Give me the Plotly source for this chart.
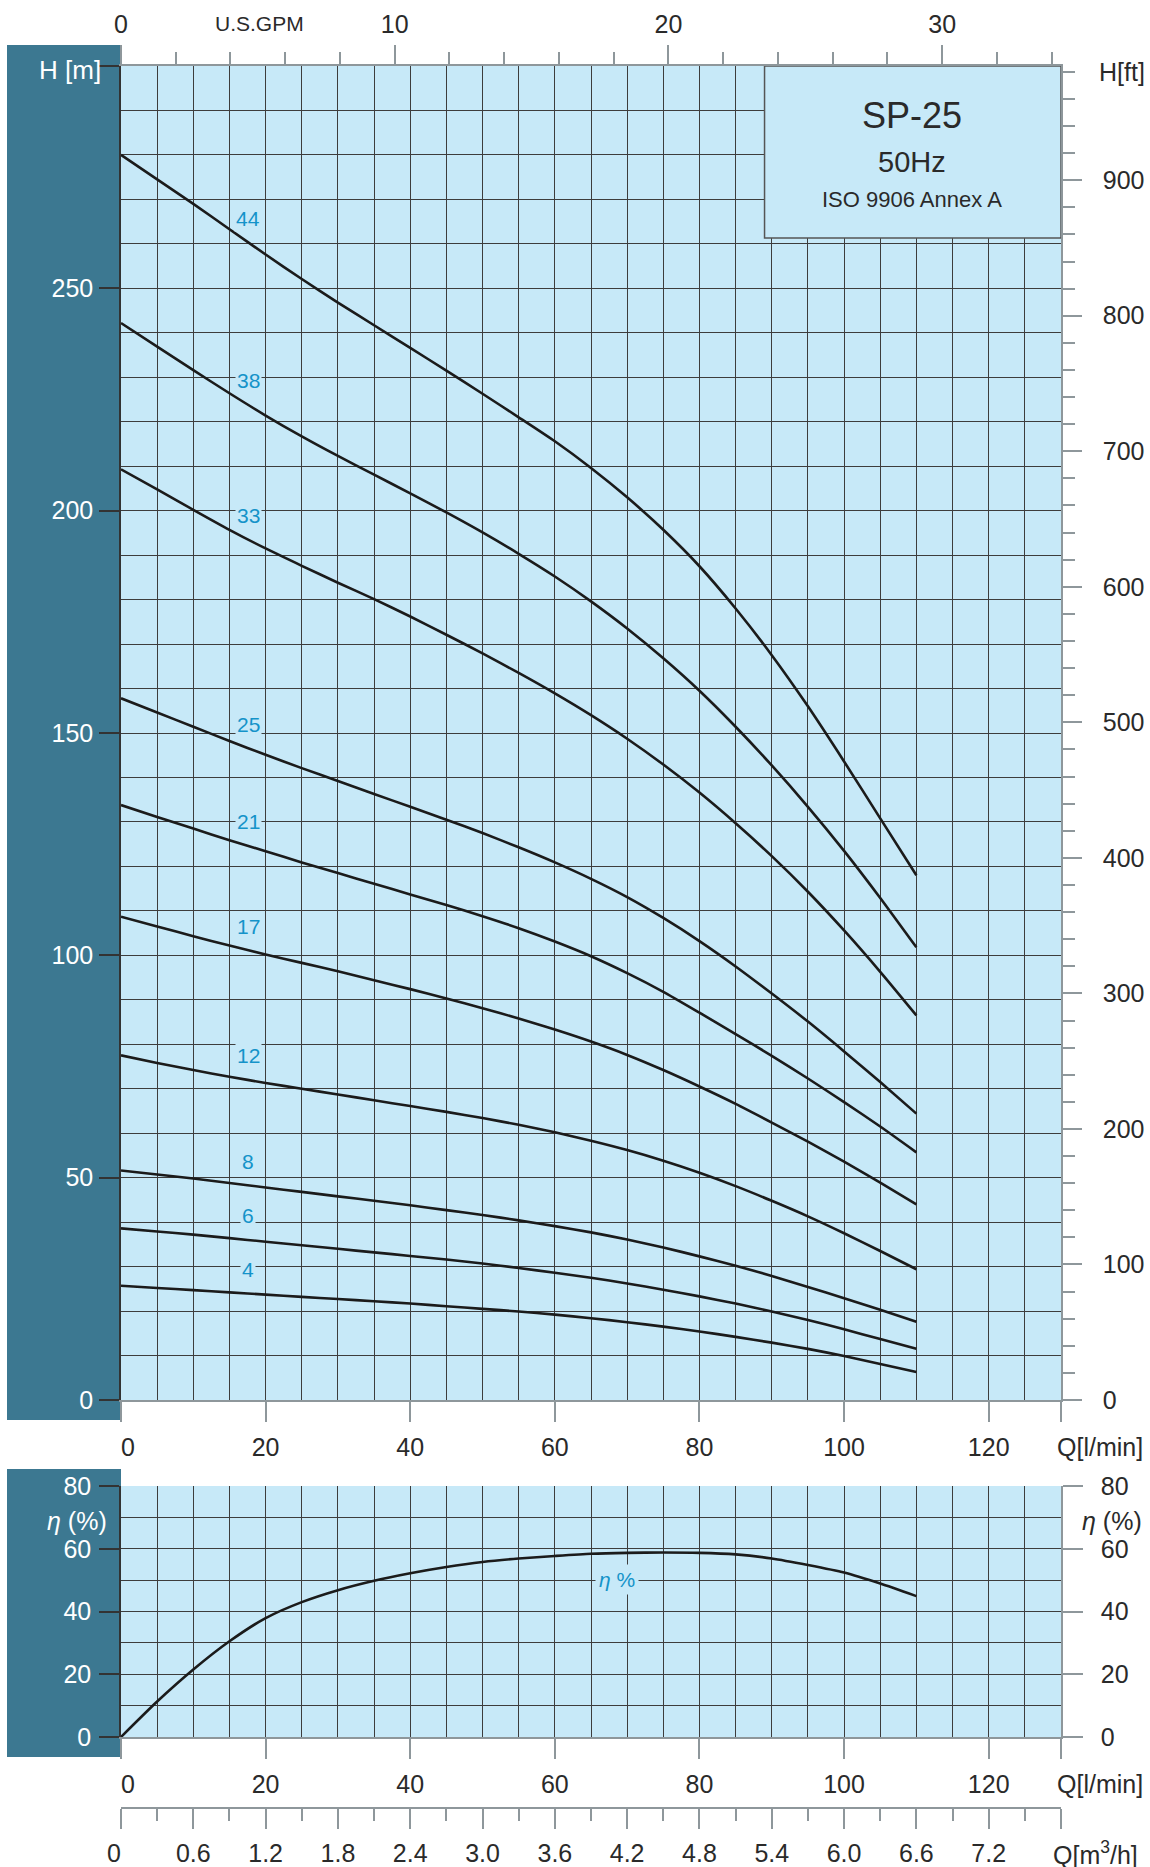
import numpy as np
import plotly.graph_objects as go

# ---------------- data ----------------
q_lmin = [0, 5, 10, 15, 20, 25, 30, 35, 40, 45, 50, 55, 60, 65, 70, 75, 80, 85, 90, 95, 100, 105, 110]

stages = ["44", "38", "33", "25", "21", "17", "12", "8", "6", "4"]
head_44 = [280, 274.5, 269, 263.3, 257.6, 252.1, 246.8, 241.7, 236.6, 231.5, 226.3, 221, 215.6, 209.6, 203, 195.7, 187.5, 178, 167.5, 156, 143.6, 130.8, 118]
head_38 = [242.2, 236.9, 231.6, 226.4, 221.4, 216.7, 212.3, 208.1, 203.9, 199.6, 195.1, 190.3, 185.2, 179.6, 173.5, 166.8, 159.5, 151.4, 142.7, 133.4, 123.5, 112.9, 101.8]
head_33 = [209.3, 204.8, 200.2, 195.7, 191.5, 187.6, 183.8, 180.1, 176.2, 172.1, 167.9, 163.5, 158.9, 154, 148.7, 142.9, 136.6, 129.7, 122.3, 114.3, 105.6, 96.3, 86.5]
head_25 = [157.8, 154.6, 151.4, 148.2, 145.1, 142.1, 139.2, 136.3, 133.4, 130.5, 127.5, 124.3, 120.9, 117.2, 113.1, 108.4, 103.2, 97.5, 91.4, 85.1, 78.4, 71.5, 64.4]
head_21 = [133.8, 131.1, 128.5, 125.9, 123.4, 120.9, 118.5, 116.1, 113.7, 111.3, 108.8, 106.1, 103.1, 99.8, 96, 91.8, 87.1, 82.3, 77.4, 72.3, 67, 61.5, 55.7]
head_17 = [108.7, 106.5, 104.3, 102.2, 100.2, 98.3, 96.4, 94.4, 92.4, 90.3, 88.1, 85.8, 83.3, 80.6, 77.6, 74.2, 70.5, 66.6, 62.4, 58.1, 53.6, 48.9, 44]
head_12 = [77.5, 75.8, 74.2, 72.7, 71.3, 70, 68.7, 67.4, 66.1, 64.8, 63.4, 61.9, 60.2, 58.3, 56.2, 53.8, 51.1, 48.1, 44.8, 41.3, 37.5, 33.5, 29.4]
head_8 = [51.6, 50.7, 49.8, 48.8, 47.8, 46.8, 45.8, 44.8, 43.8, 42.7, 41.6, 40.4, 39.1, 37.7, 36.1, 34.3, 32.3, 30.2, 27.9, 25.4, 22.9, 20.3, 17.6]
head_6 = [38.6, 37.9, 37.2, 36.4, 35.6, 34.8, 34.0, 33.2, 32.4, 31.6, 30.7, 29.7, 28.6, 27.5, 26.2, 24.8, 23.3, 21.7, 19.9, 18, 15.9, 13.7, 11.5]
head_4 = [25.7, 25.2, 24.7, 24.2, 23.7, 23.2, 22.7, 22.2, 21.7, 21.1, 20.5, 19.9, 19.2, 18.4, 17.5, 16.5, 15.4, 14.2, 12.9, 11.5, 9.9, 8.1, 6.3]
heads = [head_44, head_38, head_33, head_25, head_21, head_17, head_12, head_8, head_6, head_4]

efficiency = [0, 11.3, 21.5, 30.5, 37.9, 43, 46.8, 49.8, 52.2, 54.2, 55.8, 56.9, 57.7, 58.4, 58.7, 58.8, 58.7, 58.2, 56.9, 54.8, 52.4, 48.9, 44.9]

q_ticks = [0, 20, 40, 60, 80, 100, 120]
h_ticks = [0, 50, 100, 150, 200, 250]
ft_ticks = [0, 100, 200, 300, 400, 500, 600, 700, 800, 900]
gpm_ticks = [0, 10, 20, 30]
eta_ticks = [0, 20, 40, 60, 80]
m3h_ticks = [0, 0.6, 1.2, 1.8, 2.4, 3.0, 3.6, 4.2, 4.8, 5.4, 6.0, 6.6, 7.2]

Q_MAX = 130
H_MAX = 300
ETA_MAX = 80
M_TO_FT = 3.28084
GPM_TO_LMIN = 3.785411784

# ---------------- layout helpers ----------------
W, HT = 1150, 1867
def px(x):
    return x / W
def py(y):
    return 1 - y / HT

BG = "#c7e9f8"
PANEL = "#3c7891"
GRID = "#3d3d3d"
BORDER = "#8e979b"
DARK = "#2a2a2a"
LABEL_BLUE = "#1493c9"
FONT = "Liberation Sans, Arial, sans-serif"
FS = 25
FIG_SPACE = "\u2007"

X0, X1 = 121, 1061
TOP_Y0, TOP_Y1 = 66, 1400
BOT_Y0, BOT_Y1 = 1486, 1737

fig = go.Figure()

for name, h in zip(stages, heads):
    fig.add_trace(go.Scatter(x=q_lmin, y=h, mode="lines", line=dict(color="#1b1b1b", width=2.6, shape="spline", smoothing=0.6),
                             xaxis="x", yaxis="y", showlegend=False, hoverinfo="skip", name=name))

fig.add_trace(go.Scatter(x=q_lmin, y=efficiency, mode="lines", line=dict(color="#1b1b1b", width=2.6, shape="spline", smoothing=0.6),
                         xaxis="x3", yaxis="y3", showlegend=False, hoverinfo="skip"))

# invisible traces to bind secondary axes
for xa, ya in [("x2", "y"), ("x", "y2"), ("x4", "y3"), ("x3", "y4")]:
    fig.add_trace(go.Scatter(x=[0], y=[0], mode="markers", marker=dict(size=1, opacity=0), xaxis=xa, yaxis=ya,
                             showlegend=False, hoverinfo="skip"))

tickfont_dark = dict(family=FONT, size=FS, color=DARK)
tickfont_white = dict(family=FONT, size=FS, color="white")

def q_axis(domain_anchor):
    labels = [(FIG_SPACE + "0" if v == 0 else str(v)) for v in q_ticks]
    return dict(
        domain=[px(X0), px(X1)], anchor=domain_anchor, range=[0, Q_MAX],
        tickmode="array", tickvals=q_ticks + [Q_MAX], ticktext=labels + [" "],
        ticks="outside", ticklen=20, tickwidth=1.5, tickcolor=BORDER, tickfont=tickfont_dark,
        ticklabelstandoff=4, automargin=False,
        showgrid=True, gridcolor=GRID, gridwidth=1,
        minor=dict(dtick=5, tick0=0, showgrid=True, gridcolor=GRID, gridwidth=1, ticks=""),
        showline=True, linecolor=BORDER, linewidth=1.5, zeroline=False, fixedrange=True,
    )

fig.update_layout(
    template="none",
    width=W, height=HT, margin=dict(l=0, r=0, t=0, b=0, autoexpand=False),
    paper_bgcolor="white", plot_bgcolor=BG,
    font=dict(family=FONT, size=FS, color=DARK),
    showlegend=False,
    xaxis=q_axis("y"),
    yaxis=dict(
        domain=[py(TOP_Y1), py(TOP_Y0)], anchor="x", range=[0, H_MAX],
        tickmode="array", tickvals=h_ticks + [H_MAX], ticktext=[str(v) for v in h_ticks] + [" "],
        ticks="outside", ticklen=20, tickwidth=1.5, tickcolor="#333333", tickfont=tickfont_white,
        ticklabelstandoff=1, automargin=False,
        showgrid=True, gridcolor=GRID, gridwidth=1,
        minor=dict(dtick=10, tick0=0, showgrid=True, gridcolor=GRID, gridwidth=1, ticks=""),
        showline=True, linecolor="#333333", linewidth=1.5, zeroline=False, fixedrange=True,
    ),
    xaxis2=dict(
        overlaying="x", side="top", anchor="y", range=[0, Q_MAX / GPM_TO_LMIN],
        tickmode="array", tickvals=gpm_ticks, ticktext=[str(v) for v in gpm_ticks],
        ticks="outside", ticklen=19, tickwidth=1.5, tickcolor=BORDER, tickfont=tickfont_dark,
        ticklabelstandoff=2, automargin=False,
        minor=dict(dtick=2, tick0=0, ticks="outside", ticklen=12, tickwidth=1.5, tickcolor=BORDER, showgrid=False),
        showgrid=False, showline=True, linecolor=BORDER, linewidth=1.5, zeroline=False, fixedrange=True,
    ),
    yaxis2=dict(
        overlaying="y", side="right", anchor="x", range=[0, H_MAX * M_TO_FT],
        tickmode="array", tickvals=ft_ticks, ticktext=[str(v) for v in ft_ticks],
        ticks="outside", ticklen=19, tickwidth=1.5, tickcolor=BORDER, tickfont=tickfont_dark,
        ticklabelstandoff=16, automargin=False,
        minor=dict(dtick=20, tick0=0, ticks="outside", ticklen=12, tickwidth=1.5, tickcolor=BORDER, showgrid=False),
        showgrid=False, showline=True, linecolor=BORDER, linewidth=1.5, zeroline=False, fixedrange=True,
    ),
    xaxis3=q_axis("y3"),
    yaxis3=dict(
        domain=[py(BOT_Y1), py(BOT_Y0)], anchor="x3", range=[0, ETA_MAX],
        tickmode="array", tickvals=eta_ticks, ticktext=[str(v) for v in eta_ticks],
        ticks="outside", ticklen=20, tickwidth=1.5, tickcolor="#333333", tickfont=tickfont_white,
        ticklabelstandoff=3, automargin=False,
        showgrid=True, gridcolor=GRID, gridwidth=1,
        minor=dict(dtick=10, tick0=0, showgrid=True, gridcolor=GRID, gridwidth=1, ticks=""),
        showline=True, linecolor="#333333", linewidth=1.5, zeroline=False, fixedrange=True,
    ),
    yaxis4=dict(
        overlaying="y3", side="right", anchor="x3", range=[0, ETA_MAX],
        tickmode="array", tickvals=eta_ticks, ticktext=[str(v) for v in eta_ticks],
        ticks="outside", ticklen=20, tickwidth=1.5, tickcolor=BORDER, tickfont=tickfont_dark,
        ticklabelstandoff=13, automargin=False,
        showgrid=False, showline=True, linecolor=BORDER, linewidth=1.5, zeroline=False, fixedrange=True,
    ),
    xaxis4=dict(
        overlaying="x3", anchor="free", position=py(1808), side="bottom", range=[0, Q_MAX * 60 / 1000],
        tickmode="array", tickvals=m3h_ticks + [Q_MAX * 60 / 1000],
        ticktext=[("0" + FIG_SPACE if v == 0 else f"{v:.1f}") for v in m3h_ticks] + [" "],
        ticks="outside", ticklen=20, tickwidth=1.5, tickcolor=BORDER, tickfont=tickfont_dark,
        ticklabelstandoff=3, automargin=False,
        minor=dict(dtick=0.3, tick0=0, ticks="outside", ticklen=12, tickwidth=1.5, tickcolor=BORDER, showgrid=False),
        showgrid=False, showline=True, linecolor=BORDER, linewidth=1.5, zeroline=False, fixedrange=True,
    ),
)

shapes = [
    # dark side panels
    dict(type="rect", xref="paper", yref="paper", x0=px(7), x1=px(X0), y0=py(1420), y1=py(45),
         fillcolor=PANEL, line=dict(width=0), layer="below"),
    dict(type="rect", xref="paper", yref="paper", x0=px(7), x1=px(X0), y0=py(1757), y1=py(1469),
         fillcolor=PANEL, line=dict(width=0), layer="below"),
    # title box
    dict(type="rect", xref="x", yref="y", x0=89, x1=Q_MAX, y0=261.3, y1=H_MAX,
         fillcolor=BG, line=dict(color="#555555", width=1.5), layer="above"),
]

annotations = []
# stage labels above each curve
LABEL_Q = 17.6
for name, h in zip(stages, heads):
    annotations.append(dict(x=LABEL_Q, y=float(np.interp(LABEL_Q, q_lmin, h)), xref="x", yref="y",
                            text=name, showarrow=False, yshift=24, bgcolor=BG, borderpad=1,
                            font=dict(family=FONT, size=21, color=LABEL_BLUE)))
ETA_LABEL_Q = 68.6
annotations.append(dict(x=ETA_LABEL_Q, y=float(np.interp(ETA_LABEL_Q, q_lmin, efficiency)), xref="x3", yref="y3",
                        text="<i>η</i> %", showarrow=False, yshift=-26, bgcolor=BG, borderpad=3,
                        font=dict(family=FONT, size=21, color=LABEL_BLUE)))

def paper_text(x, y, text, size=FS, color=DARK, xanchor="center"):
    annotations.append(dict(x=px(x), y=py(y), xref="paper", yref="paper", text=text, showarrow=False,
                            xanchor=xanchor, yanchor="middle", font=dict(family=FONT, size=size, color=color)))

# title box text
paper_text(912, 116, "SP-25", size=36)
paper_text(912, 162, "50Hz", size=29)
paper_text(912, 200, "ISO 9906 Annex A", size=22)

paper_text(259, 24, "U.S.GPM", size=21)
paper_text(70, 70, "H [m]", size=26, color="white")
paper_text(1147, 72, "H[ft]", xanchor="right")
paper_text(1145, 1447, "Q[l/min]", xanchor="right")
paper_text(1145, 1784, "Q[l/min]", xanchor="right")
paper_text(1140, 1853, "Q[m<sup>3</sup>/h]", xanchor="right")
paper_text(77, 1521, "<i>η</i> (%)", color="white")
paper_text(1112, 1521, "<i>η</i> (%)")

fig.update_layout(shapes=shapes, annotations=annotations)

fig.write_html("out.html", config={"displayModeBar": False},
               post_script="document.body.style.margin='0';document.body.style.overflow='hidden';")
